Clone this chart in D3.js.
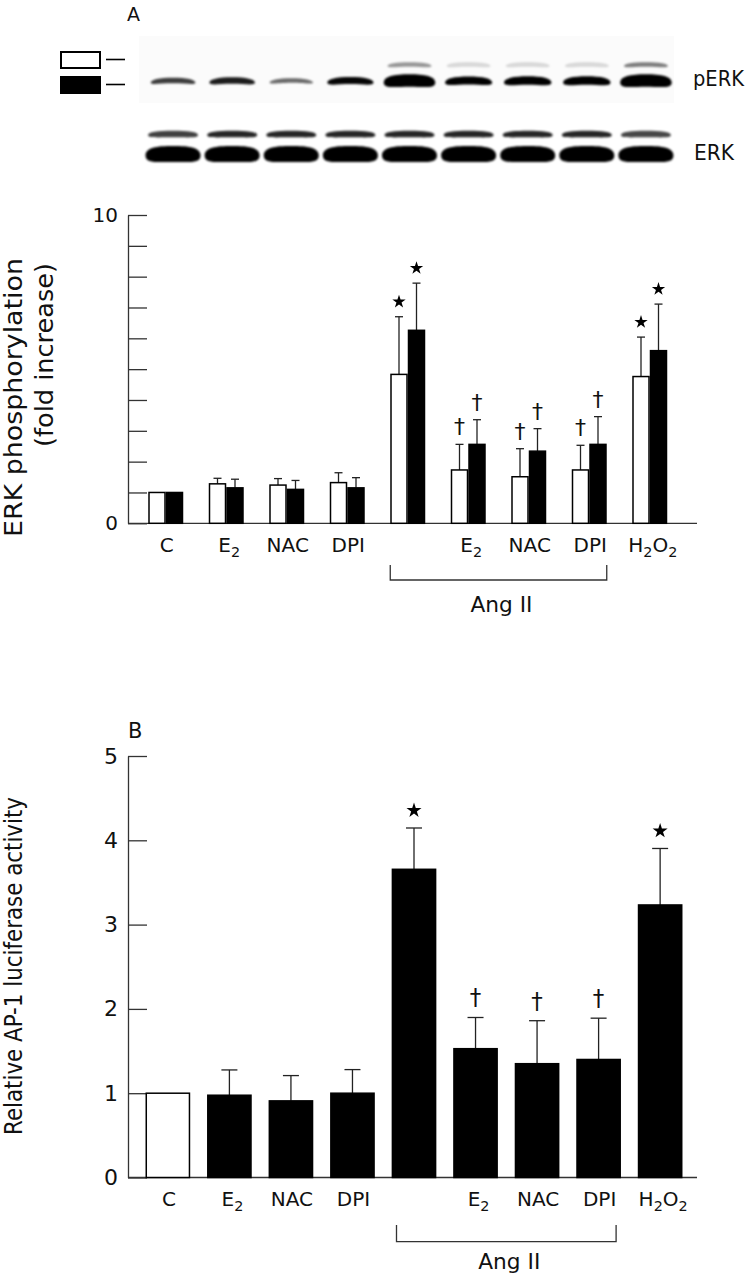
<!DOCTYPE html>
<html><head><meta charset="utf-8">
<script src="https://cdn.jsdelivr.net/npm/d3@7"></script>
<style>
body{margin:0;background:#fff;}
svg{display:block;}
text{font-family:"DejaVu Sans",sans-serif;fill:#111;}
</style>
</head><body>
<svg id="c" width="751" height="1280"></svg>
<script>
// ---------- DATA ----------
const categories = ["C","E2","NAC","DPI","AngII","AngII+E2","AngII+NAC","AngII+DPI","H2O2"];
const catLabels  = ["C","E2","NAC","DPI","","E2","NAC","DPI","H2O2"];
const angGroup   = ["AngII","AngII+E2","AngII+NAC","AngII+DPI"];

// Panel A: ERK phosphorylation (fold increase); open = upper band, filled = lower band
const erkOpen      = [1.00,1.28,1.24,1.32,4.83,1.73,1.51,1.73,4.76];
const erkOpenErr   = [0,   0.18,0.21,0.32,1.87,0.83,0.91,0.80,1.28];
const erkFilled    = [1.00,1.15,1.10,1.15,6.26,2.56,2.34,2.56,5.60];
const erkFilledErr = [0,   0.28,0.29,0.33,1.53,0.80,0.73,0.90,1.51];
const marksA       = ["","","","","star","dagger","dagger","dagger","star"];
const yTicksA      = [0,1,2,3,4,5,6,7,8,9,10];
const yLabelsA     = [0,10];

// Panel B: relative AP-1 luciferase activity
const ap1      = [1.00,0.976,0.909,1.00,3.656,1.528,1.35,1.40,3.233];
const ap1Err   = [0,   0.30, 0.30, 0.28,0.49, 0.37, 0.51,0.49,0.67];
const ap1Open  = [true,false,false,false,false,false,false,false,false];
const marksB   = ["","","","","star","dagger","dagger","dagger","star"];
const yTicksB  = [0,1,2,3,4,5];

// Western blot band strengths (relative darkness) per lane
const pErkLower = [0.45,0.60,0.25,0.70,1.60,0.85,0.90,0.90,1.60];
const pErkUpper = [0.00,0.00,0.00,0.00,0.40,0.14,0.14,0.14,0.50];
const erkUpper  = [0.75,0.85,0.85,0.85,0.85,0.85,0.85,0.85,0.72];
const erkLower  = [1,1,1,1,1,1,1,1,1];

// ---------- DRAW ----------
const svg = d3.select("#c");
const axisColor = "#333";

svg.append("defs").append("filter").attr("id","blur")
  .attr("x","-20%").attr("y","-50%").attr("width","140%").attr("height","200%")
  .append("feGaussianBlur").attr("stdDeviation",1.3);

function labelText(g, label, x, y, size){
  const t = g.append("text").attr("x",x).attr("y",y).attr("text-anchor","middle")
    .attr("font-size",size);
  let sub=false;
  for(const ch of label){
    const isDigit = /[0-9]/.test(ch);
    const ts = t.append("tspan").text(ch);
    if(isDigit && !sub){ ts.attr("dy",5).attr("font-size",size*0.72); sub=true; }
    else if(!isDigit && sub){ ts.attr("dy",-5); sub=false; }
    else if(isDigit && sub){ ts.attr("font-size",size*0.72); }
  }
  return t;
}

function bandPath(cx, cy, w, h, bend){
  const x0=cx-w/2, x1=cx+w/2, t=cy-h/2, b=cy+h/2;
  return `M${x0},${cy+bend} C${x0},${t+bend} ${x0+w*0.2},${t} ${cx},${t} `+
         `C${x1-w*0.2},${t} ${x1},${t+bend} ${x1},${cy+bend} `+
         `C${x1},${b+bend} ${x1-w*0.2},${b} ${cx},${b} `+
         `C${x0+w*0.2},${b} ${x0},${b+bend} ${x0},${cy+bend} Z`;
}

// ----- Blot -----
svg.append("text").attr("x",127).attr("y",21).attr("font-size",19).text("A");
const lane = d3.scaleBand().domain(categories).range([143.5,675.5]);
const lc = c => lane(c)+lane.bandwidth()/2;
const blot = svg.append("g");
blot.append("rect").attr("x",139).attr("y",36).attr("width",535).attr("height",67).attr("fill","#fbfbfb");
const bands = blot.append("g").attr("filter","url(#blur)");
categories.forEach((c,i)=>{
  const cx = lc(c);
  if(pErkUpper[i]>0) bands.append("path")
    .attr("d",bandPath(cx,64.5,44,4.5,1.5)).attr("fill","#000").attr("opacity",pErkUpper[i]);
  const s = pErkLower[i];
  bands.append("path").attr("d",bandPath(cx,80.5,42+6*s,3+6*s,2))
    .attr("fill","#000").attr("opacity",Math.min(1,0.35+0.9*s));
  bands.append("path").attr("d",bandPath(cx,134,50,6.5,1)).attr("fill","#000").attr("opacity",erkUpper[i]);
  bands.append("path").attr("d",bandPath(cx,154,55,16*erkLower[i],1.5)).attr("fill","#000");
});
svg.append("text").attr("x",693).attr("y",86).attr("font-size",22).attr("textLength",51).attr("lengthAdjust","spacingAndGlyphs").text("pERK");
svg.append("text").attr("x",694).attr("y",160).attr("font-size",22).attr("textLength",40).attr("lengthAdjust","spacingAndGlyphs").text("ERK");
// legend
svg.append("rect").attr("x",61).attr("y",52).attr("width",39).attr("height",16)
  .attr("fill","#fff").attr("stroke","#000").attr("stroke-width",2);
svg.append("rect").attr("x",60).attr("y",76).attr("width",41).attr("height",18).attr("fill","#000");
[59.5,84.5].forEach(y=>svg.append("line").attr("x1",106).attr("x2",125).attr("y1",y).attr("y2",y)
  .attr("stroke","#000").attr("stroke-width",1.6));

// ----- Panel A -----
const yA = d3.scaleLinear().domain([0,10]).range([523.3,215]);
const xA = d3.scaleBand().domain(categories).range([135.5,680]).paddingInner(0.4215).paddingOuter(0.21075);
const sub = d3.scaleBand().domain(["open","filled"]).range([0,xA.bandwidth()]);
const gA = svg.append("g");
gA.append("g").attr("transform","translate(128,0)")
  .call(d3.axisLeft(yA).tickValues(yTicksA).tickSizeInner(-19).tickSizeOuter(0).tickPadding(10)
    .tickFormat(d=>yLabelsA.includes(d)?d:""))
  .call(g=>{g.selectAll("path,line").attr("stroke",axisColor).attr("stroke-width",1.3);
            g.selectAll("text").attr("font-size",20).attr("font-family","DejaVu Sans").attr("fill","#111");});
gA.append("line").attr("x1",128).attr("x2",697).attr("y1",yA(0)).attr("y2",yA(0))
  .attr("stroke",axisColor).attr("stroke-width",1.3);

function drawStar(g,x,y,size){
  g.append("path").attr("d",d3.symbol(d3.symbolStar,size)()).attr("transform",`translate(${x},${y})`).attr("fill","#000");
}
function drawDagger(g,x,yBottom,size){
  g.append("text").attr("x",x).attr("y",yBottom).attr("text-anchor","middle").attr("font-size",size).text("†");
}

const seriesA = [
  {key:"open", vals:erkOpen, errs:erkOpenErr, fill:"#fff"},
  {key:"filled", vals:erkFilled, errs:erkFilledErr, fill:"#000"}
];
seriesA.forEach(s=>{
  categories.forEach((c,i)=>{
    const x0 = xA(c)+sub(s.key), w = sub.bandwidth(), cx = x0+w/2;
    const v = s.vals[i], e = s.errs[i];
    if(e>0){
      gA.append("line").attr("x1",cx).attr("x2",cx).attr("y1",yA(v)).attr("y2",yA(v+e)).attr("stroke","#222").attr("stroke-width",1.3);
      gA.append("line").attr("x1",cx-4).attr("x2",cx+4).attr("y1",yA(v+e)).attr("y2",yA(v+e)).attr("stroke","#222").attr("stroke-width",1.3);
    }
    gA.append("rect").attr("x",x0+0.75).attr("y",yA(v)).attr("width",w-1.5).attr("height",yA(0)-yA(v))
      .attr("fill",s.fill).attr("stroke","#000").attr("stroke-width",1.5);
    const top = yA(v+e);
    if(marksA[i]==="star") drawStar(gA,cx,top-15,55);
    if(marksA[i]==="dagger") drawDagger(gA,cx,top-10,22);
  });
});
categories.forEach((c,i)=>{
  if(catLabels[i]) labelText(gA,catLabels[i],xA(c)+xA.bandwidth()/2+(/\d/.test(catLabels[i])?3:1),552,20);
});
{
  const l = xA(angGroup[0]), r = xA(angGroup[3])+xA.bandwidth();
  gA.append("path").attr("d",`M${l},565V580H${r}V565`).attr("fill","none").attr("stroke",axisColor).attr("stroke-width",1.3);
  gA.append("text").attr("x",(l+r)/2+3).attr("y",612).attr("text-anchor","middle").attr("font-size",22)
    .attr("textLength",62).attr("lengthAdjust","spacingAndGlyphs").text("Ang II");
}
gA.append("text").attr("transform","translate(22,537) rotate(-90)").attr("font-size",24)
  .attr("textLength",279).attr("lengthAdjust","spacingAndGlyphs").text("ERK phosphorylation");
gA.append("text").attr("transform","translate(53,447) rotate(-90)").attr("font-size",24)
  .attr("textLength",184).attr("lengthAdjust","spacingAndGlyphs").text("(fold increase)");

// ----- Panel B -----
const yB = d3.scaleLinear().domain([0,5]).range([1177.5,756]);
const xB = d3.scaleBand().domain(categories).range([137.1,690.9]).paddingInner(0.2735).paddingOuter(0.13675);
const gB = svg.append("g");
gB.append("text").attr("x",128).attr("y",738).attr("font-size",21).text("B");
gB.append("g").attr("transform","translate(128,0)")
  .call(d3.axisLeft(yB).tickValues(yTicksB).tickSizeInner(-19).tickSizeOuter(0).tickPadding(10).tickFormat(d3.format("d")))
  .call(g=>{g.selectAll("path,line").attr("stroke",axisColor).attr("stroke-width",1.3);
            g.selectAll("text").attr("font-size",22).attr("font-family","DejaVu Sans").attr("fill","#111");});
gB.append("line").attr("x1",128).attr("x2",697).attr("y1",yB(0)).attr("y2",yB(0))
  .attr("stroke",axisColor).attr("stroke-width",1.3);
categories.forEach((c,i)=>{
  const x0 = xB(c), w = xB.bandwidth(), cx = x0+w/2;
  const v = ap1[i], e = ap1Err[i];
  if(e>0){
    gB.append("line").attr("x1",cx).attr("x2",cx).attr("y1",yB(v)).attr("y2",yB(v+e)).attr("stroke","#222").attr("stroke-width",1.3);
    gB.append("line").attr("x1",cx-8).attr("x2",cx+8).attr("y1",yB(v+e)).attr("y2",yB(v+e)).attr("stroke","#222").attr("stroke-width",1.3);
  }
  gB.append("rect").attr("x",x0+0.75).attr("y",yB(v)).attr("width",w-1.5).attr("height",yB(0)-yB(v))
    .attr("fill",ap1Open[i]?"#fff":"#000").attr("stroke","#000").attr("stroke-width",1.5);
  const top = yB(v+e);
  if(marksB[i]==="star") drawStar(gB,cx,top-17.5,70);
  if(marksB[i]==="dagger") drawDagger(gB,cx,top-12,23);
  if(catLabels[i]) labelText(gB,catLabels[i],cx+(/\d/.test(catLabels[i])?3:1),1206,20);
});
{
  const l = xB(angGroup[0])+xB.bandwidth()/2-17.5, r = xB(angGroup[3])+xB.bandwidth()/2+17.5;
  gB.append("path").attr("d",`M${l},1225V1241.7H${r}V1225`).attr("fill","none").attr("stroke",axisColor).attr("stroke-width",1.3);
  gB.append("text").attr("x",(l+r)/2+3).attr("y",1269).attr("text-anchor","middle").attr("font-size",22)
    .attr("textLength",62).attr("lengthAdjust","spacingAndGlyphs").text("Ang II");
}
gB.append("text").attr("transform","translate(22,1135) rotate(-90)").attr("font-size",25)
  .attr("textLength",338).attr("lengthAdjust","spacingAndGlyphs").text("Relative AP-1 luciferase activity");
</script>
</body></html>
